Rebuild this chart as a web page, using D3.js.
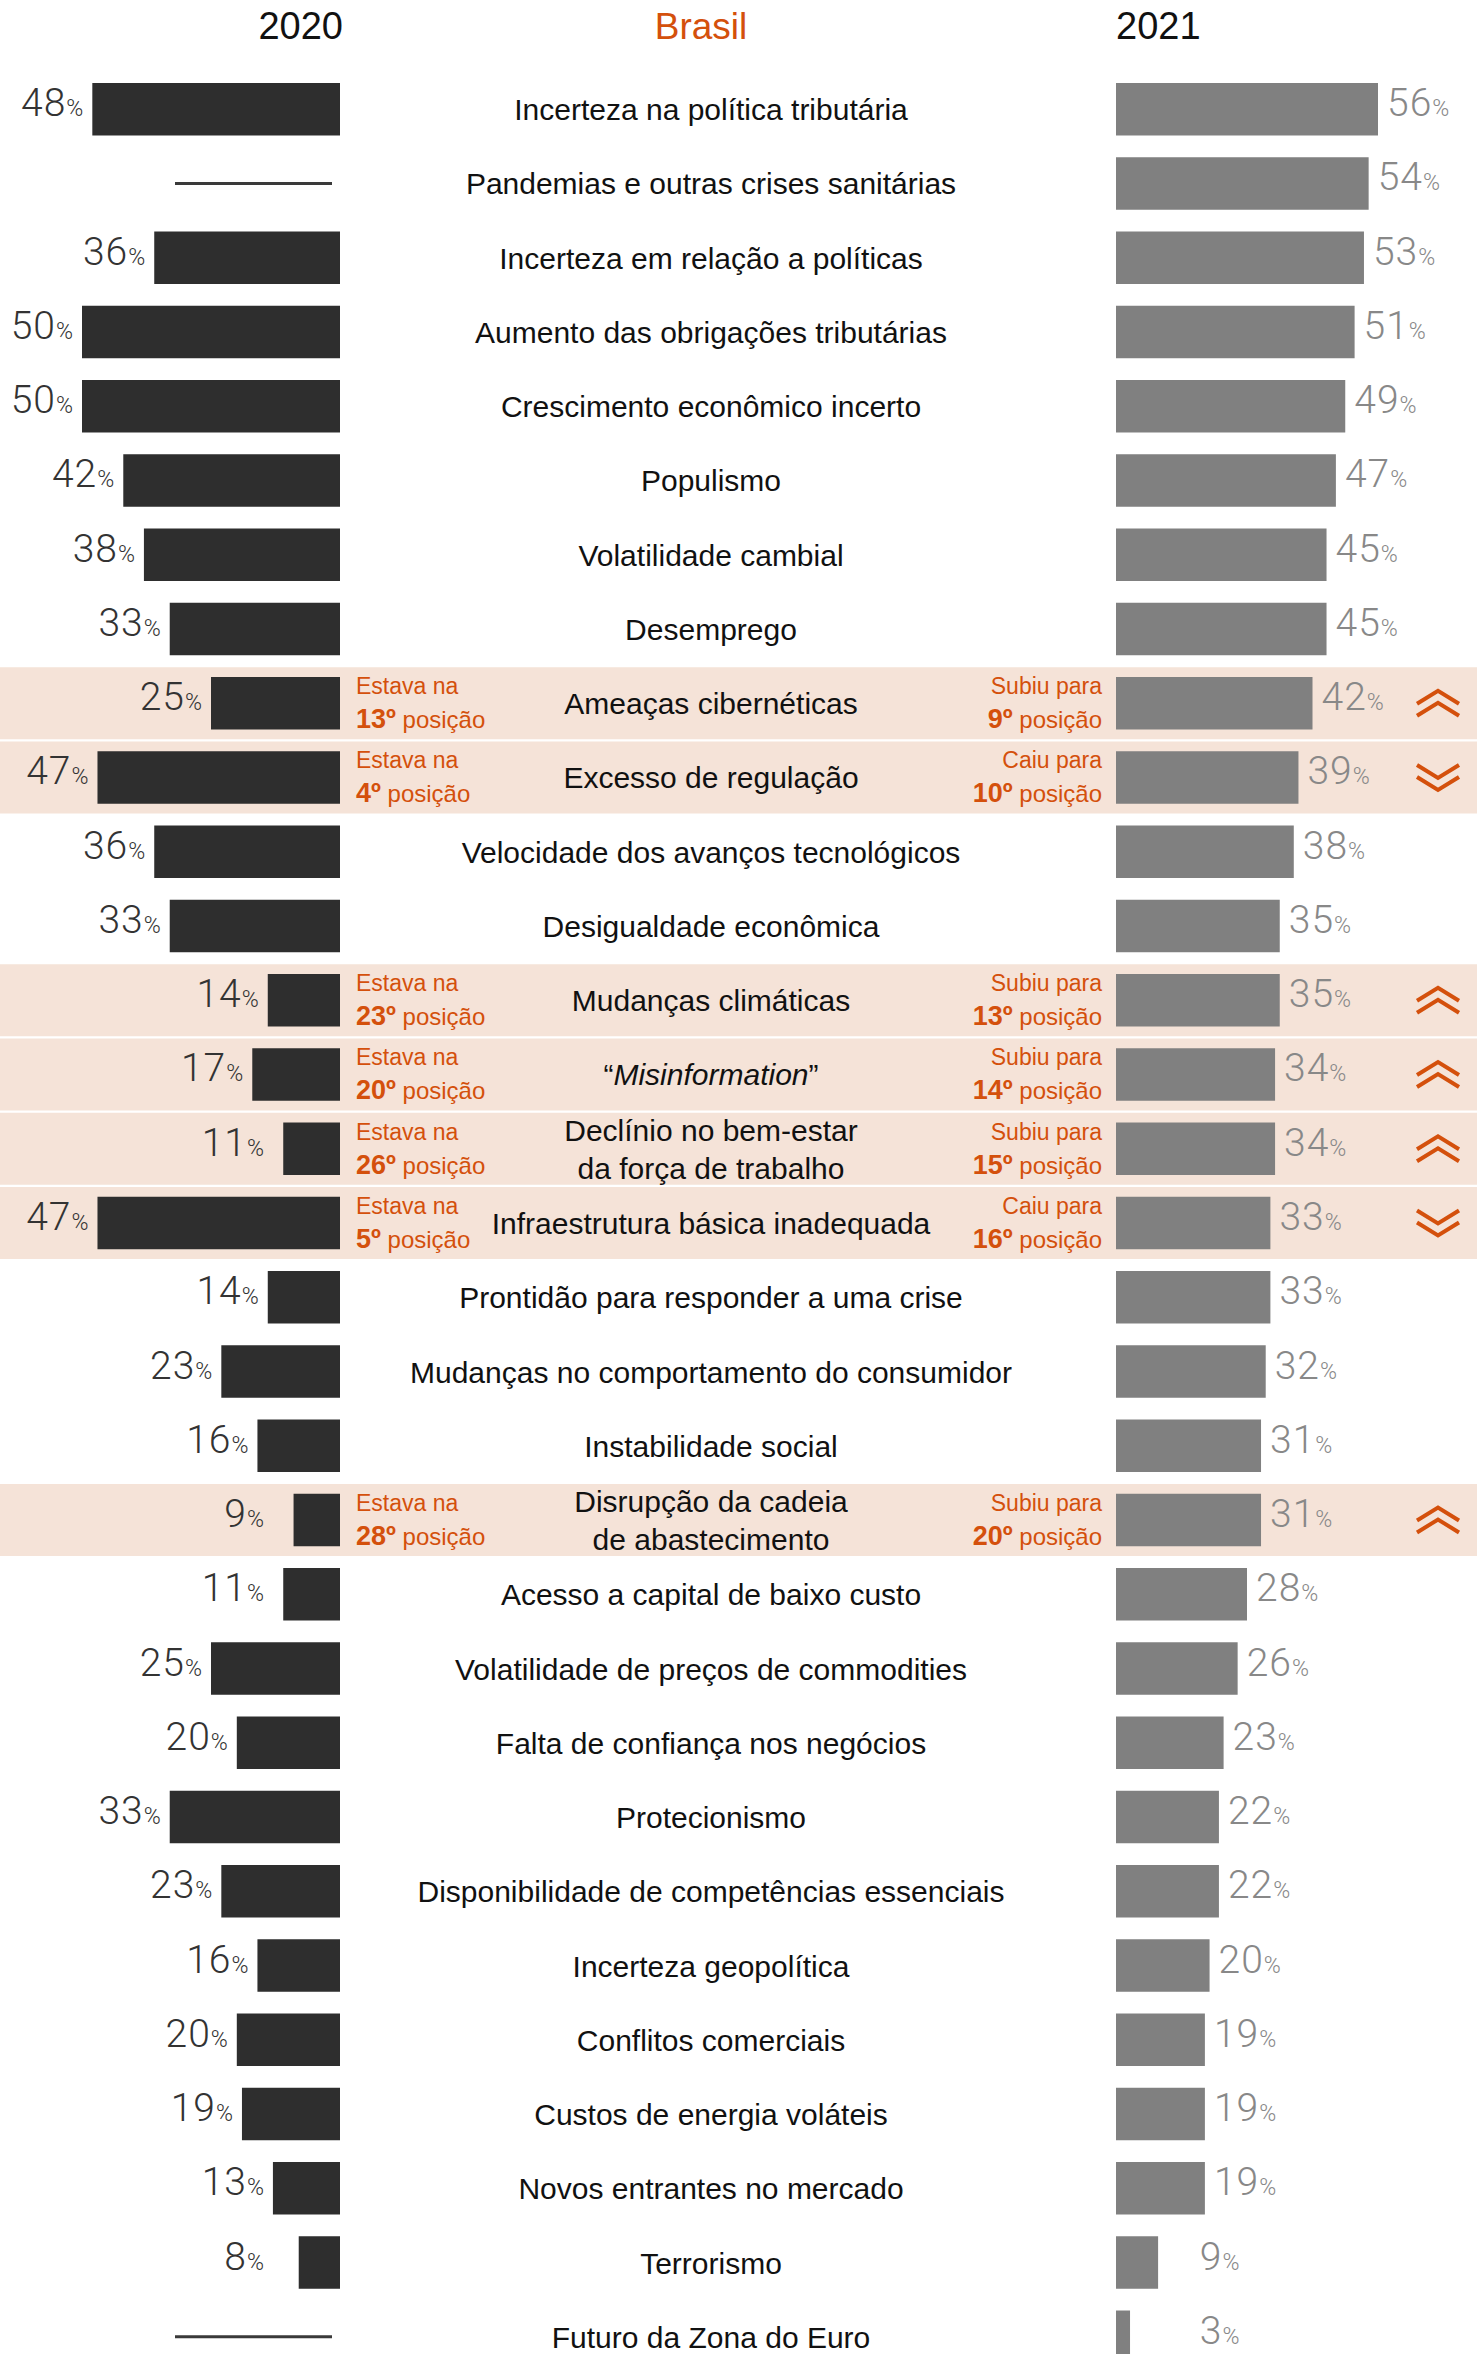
<!DOCTYPE html>
<html>
<head>
<meta charset="utf-8">
<script src="https://cdn.jsdelivr.net/npm/d3@7"></script>
<style>
  body { margin: 0; background: #fff; }
  svg { display: block; font-family: "Liberation Sans", Arial, sans-serif; }
</style>
</head>
<body>
<div id="chart"></div>
<script>
// ── Data ──
const risks = [
  'Incerteza na política tributária',
  'Pandemias e outras crises sanitárias',
  'Incerteza em relação a políticas',
  'Aumento das obrigações tributárias',
  'Crescimento econômico incerto',
  'Populismo',
  'Volatilidade cambial',
  'Desemprego',
  'Ameaças cibernéticas',
  'Excesso de regulação',
  'Velocidade dos avanços tecnológicos',
  'Desigualdade econômica',
  'Mudanças climáticas',
  '“Misinformation”',
  'Declínio no bem-estar\nda força de trabalho',
  'Infraestrutura básica inadequada',
  'Prontidão para responder a uma crise',
  'Mudanças no comportamento do consumidor',
  'Instabilidade social',
  'Disrupção da cadeia\nde abastecimento',
  'Acesso a capital de baixo custo',
  'Volatilidade de preços de commodities',
  'Falta de confiança nos negócios',
  'Protecionismo',
  'Disponibilidade de competências essenciais',
  'Incerteza geopolítica',
  'Conflitos comerciais',
  'Custos de energia voláteis',
  'Novos entrantes no mercado',
  'Terrorismo',
  'Futuro da Zona do Euro'
];

const values2020 = [48, null, 36, 50, 50, 42, 38, 33, 25, 47, 36, 33, 14, 17, 11, 47,
                    14, 23, 16, 9, 11, 25, 20, 33, 23, 16, 20, 19, 13, 8, null];
const values2021 = [56, 54, 53, 51, 49, 47, 45, 45, 42, 39, 38, 35, 35, 34, 34, 33,
                    33, 32, 31, 31, 28, 26, 23, 22, 22, 20, 19, 19, 19, 9, 3];

// position in the ranking, only for the risks that moved a lot
const rank2020 = [null, null, null, null, null, null, null, null, 13, 4, null, null, 23, 20, 26, 5,
                  null, null, null, 28, null, null, null, null, null, null, null, null, null, null, null];
const rank2021 = [null, null, null, null, null, null, null, null, 9, 10, null, null, 13, 14, 15, 16,
                  null, null, null, 20, null, null, null, null, null, null, null, null, null, null, null];

const yearLabels = ['2020', '2021'];
const title = 'Brasil';

// ── Setup ──
const W = 1477, H = 2354;
const orange = '#d4500c';
const svg = d3.select('#chart').append('svg')
  .attr('width', W).attr('height', H);

svg.append('rect').attr('width', W).attr('height', H).attr('fill', '#fff');

const y = d3.scaleBand()
  .domain(d3.range(risks.length))
  .range([83, 2363])
  .paddingInner(0.293)
  .paddingOuter(0);

const xLeft = d3.scaleLinear().domain([0, 50]).range([340, 82]);
const xRight = d3.scaleLinear().domain([0, 56]).range([1116, 1378]);

const rows = risks.map((name, i) => ({
  i, name,
  v20: values2020[i], v21: values2021[i],
  r20: rank2020[i], r21: rank2021[i],
  cy: y(i) + y.bandwidth() / 2
}));
const moved = rows.filter(d => d.r20 != null);

// ── Highlight bands ──
svg.append('g').selectAll('rect').data(moved).join('rect')
  .attr('x', 0).attr('width', W)
  .attr('y', d => d.cy - 36).attr('height', 72)
  .attr('fill', '#f5e3d8');

// ── Headers ──
svg.append('text').attr('x', 343).attr('y', 39).attr('text-anchor', 'end')
  .attr('font-size', 38).attr('fill', '#111').text(yearLabels[0]);
svg.append('text').attr('x', 701).attr('y', 39).attr('text-anchor', 'middle')
  .attr('font-size', 37).attr('fill', orange).text(title);
svg.append('text').attr('x', 1116).attr('y', 39).attr('text-anchor', 'start')
  .attr('font-size', 38).attr('fill', '#111').text(yearLabels[1]);

// ── 2020 bars (left) ──
const withV20 = rows.filter(d => d.v20 != null);
svg.append('g').selectAll('rect').data(withV20).join('rect')
  .attr('x', d => xLeft(d.v20)).attr('width', d => xLeft(0) - xLeft(d.v20))
  .attr('y', d => y(d.i)).attr('height', y.bandwidth())
  .attr('fill', '#2e2e2e');

// missing 2020 value → a dash
svg.append('g').selectAll('line').data(rows.filter(d => d.v20 == null)).join('line')
  .attr('x1', 175).attr('x2', 332)
  .attr('y1', d => d.cy).attr('y2', d => d.cy)
  .attr('stroke', '#3a3a3a').attr('stroke-width', 3);

function pctLabel(sel, color) {
  sel.append('tspan').attr('font-size', 39).attr('letter-spacing', 1).attr('fill', color).text(d => d.val);
  sel.append('tspan').attr('font-size', 23).attr('fill', color).text('%');
}

const left = svg.append('g').selectAll('text').data(withV20.map(d => ({ ...d, val: d.v20 }))).join('text')
  .attr('x', d => xLeft(Math.max(d.v20, 13)) - 9)
  .attr('y', d => d.cy + 7)
  .attr('text-anchor', 'end')
  .attr('font-family', 'Roboto, "Liberation Sans", sans-serif').attr('font-weight', 300);
pctLabel(left, '#333');

// ── 2021 bars (right) ──
svg.append('g').selectAll('rect').data(rows).join('rect')
  .attr('x', xRight(0)).attr('width', d => xRight(d.v21) - xRight(0))
  .attr('y', d => y(d.i)).attr('height', y.bandwidth())
  .attr('fill', '#808080');

const right = svg.append('g').selectAll('text').data(rows.map(d => ({ ...d, val: d.v21 }))).join('text')
  .attr('x', d => xRight(Math.max(d.v21, 16)) + 9)
  .attr('y', d => d.cy + 7)
  .attr('text-anchor', 'start')
  .attr('font-family', 'Roboto, "Liberation Sans", sans-serif').attr('font-weight', 300);
pctLabel(right, '#888');

// ── Category labels ──
const labels = svg.append('g').selectAll('text').data(rows).join('text')
  .attr('x', 711)
  .attr('text-anchor', 'middle')
  .attr('font-size', 30).attr('fill', '#111');

labels.each(function(d) {
  const t = d3.select(this);
  const lines = d.name.split('\n');
  if (lines.length > 1) {
    t.attr('y', d.cy - 8);
    lines.forEach((l, k) => {
      t.append('tspan').attr('x', 711).attr('y', d.cy - 8 + k * 38).text(l);
    });
  } else if (d.name.startsWith('“')) {
    t.attr('y', d.cy + 11);
    t.append('tspan').text('“');
    t.append('tspan').attr('font-style', 'italic').text(d.name.slice(1, -1));
    t.append('tspan').text('”');
  } else {
    t.attr('y', d.cy + 11).text(d.name);
  }
});

// ── Ranking notes ──
function rankNote(g, x, anchor, top, rank) {
  g.append('text').attr('x', x).attr('y', d => d.cy - 9)
    .attr('text-anchor', anchor).attr('font-size', 23).attr('fill', orange)
    .text(top);
  const t = g.append('text').attr('x', x).attr('y', d => d.cy + 25)
    .attr('text-anchor', anchor).attr('fill', orange);
  t.append('tspan').attr('font-size', 27).attr('font-weight', 700).text(d => rank(d) + 'º');
  t.append('tspan').attr('font-size', 24).text(' posição');
}

const notes = svg.append('g').selectAll('g').data(moved).join('g');
rankNote(notes, 356, 'start', 'Estava na', d => d.r20);
notes.each(function(d) {
  const g = d3.select(this);
  rankNote(g, 1102, 'end', d.r21 < d.r20 ? 'Subiu para' : 'Caiu para', dd => dd.r21);
});

// ── Chevrons ──
notes.append('path')
  .attr('transform', d => 'translate(1438,' + d.cy + ')')
  .attr('d', d => {
    const up = d.r21 < d.r20;
    const s = up ? 1 : -1;
    const arm = (oy) => 'M -21,' + (oy + s * 6.5) + ' L 0,' + (oy - s * 6.5) + ' L 21,' + (oy + s * 6.5);
    return arm(-6) + ' ' + arm(6);
  })
  .attr('fill', 'none').attr('stroke', orange).attr('stroke-width', 4);
</script>
</body>
</html>
